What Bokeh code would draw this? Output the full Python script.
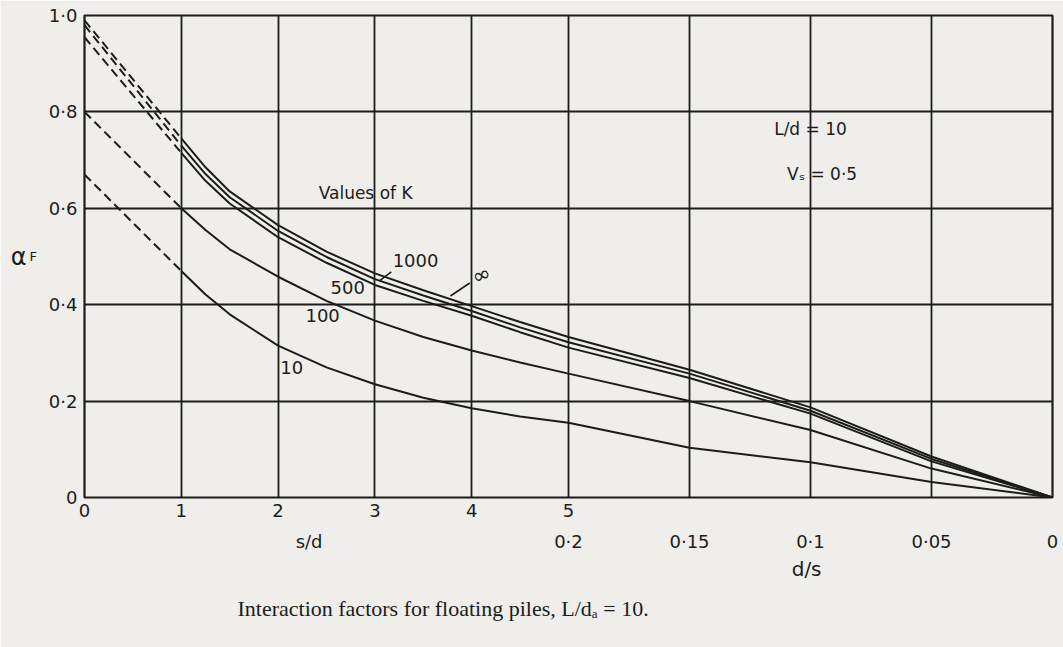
from bokeh.plotting import figure
from bokeh.models import (FixedTicker, LinearAxis, Label, Range1d, Title,
                          CustomJSTickFormatter)
from bokeh.embed import file_html
from bokeh.resources import INLINE

# ---------------- data ----------------
# abscissa: s/d from 0 to 5, then d/s from 0.2 down to 0
s_over_d = [0, 1, 1.25, 1.5, 2, 2.5, 3, 3.5, 4, 4.5, 5]
d_over_s = [0.15, 0.1, 0.05, 0.0]

k_values = ["∞", "1000", "500", "100", "10"]
alpha_inf = [0.99, 0.745, 0.685, 0.635, 0.565, 0.510, 0.465, 0.430, 0.397, 0.364, 0.333,
             0.265, 0.187, 0.085, 0.0]
alpha_1000 = [0.98, 0.730, 0.671, 0.623, 0.553, 0.499, 0.453, 0.419, 0.387, 0.353, 0.322,
              0.257, 0.180, 0.080, 0.0]
alpha_500 = [0.955, 0.715, 0.657, 0.610, 0.540, 0.487, 0.441, 0.408, 0.377, 0.343, 0.311,
             0.248, 0.174, 0.075, 0.0]
alpha_100 = [0.80, 0.600, 0.555, 0.515, 0.458, 0.408, 0.367, 0.333, 0.305, 0.280, 0.257,
             0.200, 0.140, 0.060, 0.0]
alpha_10 = [0.67, 0.470, 0.421, 0.380, 0.315, 0.270, 0.235, 0.207, 0.185, 0.168, 0.155,
            0.103, 0.073, 0.032, 0.0]

sd_ticks = [0, 1, 2, 3, 4, 5]
sd_tick_labels = ["0", "1", "2", "3", "4", "5"]
ds_ticks = [0.2, 0.15, 0.1, 0.05, 0.0]
ds_tick_labels = ["0·2", "0·15", "0·1", "0·05", "0"]
y_ticks = [0, 0.2, 0.4, 0.6, 0.8, 1.0]
y_tick_labels = ["0", "0·2", "0·4", "0·6", "0·8", "1·0"]

# composite axis scale: s/d occupies 0..5, d/s (0.2 -> 0) occupies 5..10
SD_END = 5.0
DS_SCALE = 25.0


def u_sd(v):
    return float(v)


def u_ds(v):
    return SD_END + (0.2 - v) * DS_SCALE


x_all = [u_sd(v) for v in s_over_d] + [u_ds(v) for v in d_over_s]

INK = "#1c1c1c"
BG = "#efeeea"
FONT = "DejaVu Sans"
SERIF = "Liberation Serif"

p = figure(width=1063, height=647, x_range=Range1d(0, 10), y_range=Range1d(0, 1),
           output_backend="svg", toolbar_location=None,
           min_border_left=84, min_border_right=11, min_border_top=15,
           min_border_bottom=150)
p.background_fill_color = BG
p.border_fill_color = BG
p.outline_line_color = INK
p.outline_line_width = 2.2

# grid
p.xgrid.ticker = FixedTicker(ticks=[1, 2, 3, 4, 5] + [u_ds(v) for v in ds_ticks[1:-1]])
p.ygrid.ticker = FixedTicker(ticks=y_ticks[1:-1])
for g in (p.xgrid, p.ygrid):
    g.grid_line_color = INK
    g.grid_line_width = 1.8
    g.grid_line_alpha = 1.0

fmt_code = """
for (let i = 0; i < pos.length; i++) {
  if (Math.abs(tick - pos[i]) < 1e-6) { return lab[i]; }
}
return "";
"""


def fixed_axis(pos, lab):
    return dict(ticker=FixedTicker(ticks=pos),
                formatter=CustomJSTickFormatter(args=dict(pos=pos, lab=lab), code=fmt_code))


# --- bottom: row 1 = s/d ticks, row 2 = d/s ticks (+ s/d title), row 3 = d/s title
ax1 = p.xaxis[0]
cfg = fixed_axis([u_sd(v) for v in sd_ticks], sd_tick_labels)
ax1.ticker = cfg["ticker"]
ax1.formatter = cfg["formatter"]

SD_TITLE_AT = 2.32
DS_TITLE_AT = 7.46
ax2 = LinearAxis(**fixed_axis([SD_TITLE_AT] + [u_ds(v) for v in ds_ticks],
                              ["s/d"] + ds_tick_labels))
p.add_layout(ax2, "below")
ax3 = LinearAxis(**fixed_axis([DS_TITLE_AT], ["d/s"]))
p.add_layout(ax3, "below")

# --- left: tick labels, then alpha_F title
ay = p.yaxis[0]
cfg = fixed_axis(y_ticks, y_tick_labels)
ay.ticker = cfg["ticker"]
ay.formatter = cfg["formatter"]
ay.axis_label = "F"
ay_outer = LinearAxis(ticker=FixedTicker(ticks=[]), axis_label="α")
p.add_layout(ay_outer, "left")

for ax in (ax1, ax2, ax3, ay, ay_outer):
    ax.axis_line_color = None
    ax.major_tick_line_color = None
    ax.minor_tick_line_color = None
    ax.major_tick_out = 0
    ax.major_tick_in = 0
    ax.major_label_text_font = FONT
    ax.major_label_text_font_size = "18px"
    ax.major_label_text_color = INK
    ax.axis_label_text_font = FONT
    ax.axis_label_text_font_style = "normal"
    ax.axis_label_text_color = INK
ax1.major_label_standoff = 6
ax2.major_label_standoff = 11
ax3.major_label_standoff = 2
ax3.major_label_text_font_size = "20px"
ay.major_label_standoff = 7

ay.axis_label_text_font_size = "13px"
ay.axis_label_standoff = 9
ay_outer.axis_label_text_font_size = "24px"
ay_outer.axis_label_standoff = 0
for ax in (ay, ay_outer):
    if hasattr(ax, "axis_label_orientation"):
        ax.axis_label_orientation = "horizontal"

# caption
p.add_layout(Title(text="Interaction factors for floating piles, L/dₐ = 10.",
                   align="left", offset=153, standoff=20, text_font=SERIF,
                   text_font_size="22px", text_font_style="normal",
                   text_color=INK), "below")

# curves: dashed between s/d = 0 and 1, solid afterwards
for series in (alpha_inf, alpha_1000, alpha_500, alpha_100, alpha_10):
    p.line(x_all[:2], series[:2], line_color=INK, line_width=2, line_dash="9 5")
    p.line(x_all[1:], series[1:], line_color=INK, line_width=2)

# curve labels
label_pos = {"1000": (3.42, 0.492), "500": (2.72, 0.436), "100": (2.46, 0.377),
             "10": (2.14, 0.27), "∞": (4.1, 0.462)}
for k in k_values:
    x, y = label_pos[k]
    p.add_layout(Label(x=x, y=y, text=k, text_font=FONT,
                       text_font_size="22px" if k == "∞" else "18px",
                       text_color=INK, text_align="center", text_baseline="middle",
                       angle=0.35 if k == "∞" else 0))

# leader lines for 1000 and infinity
p.line([3.17, 3.05], [0.468, 0.450], line_color=INK, line_width=1.6)
p.line([3.98, 3.78], [0.445, 0.418], line_color=INK, line_width=1.6)

p.add_layout(Label(x=2.96, y=0.632, text="Values  of  K", text_font=FONT,
                   text_font_size="17px", text_color=INK, text_align="center",
                   text_baseline="middle"))
p.add_layout(Label(x=7.5, y=0.765, text="L/d = 10", text_font=FONT,
                   text_font_size="17px", text_color=INK, text_align="center",
                   text_baseline="middle"))
p.add_layout(Label(x=7.62, y=0.672, text="Vₛ = 0·5", text_font=FONT,
                   text_font_size="17px", text_color=INK, text_align="center",
                   text_baseline="middle"))

open("out.html", "w").write(file_html(p, INLINE))
